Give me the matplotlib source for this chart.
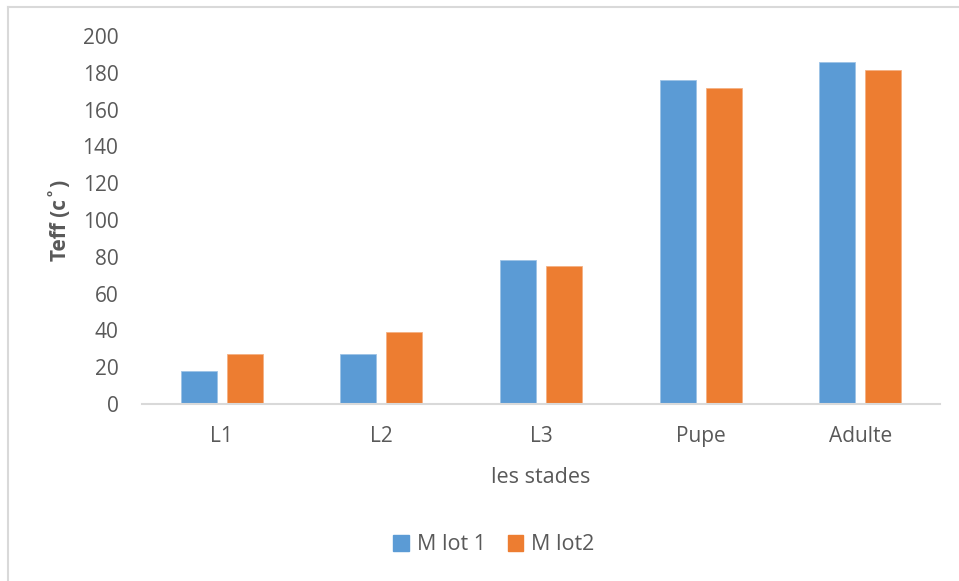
import matplotlib
matplotlib.use("Agg")
import matplotlib.pyplot as plt
from matplotlib.lines import Line2D
from matplotlib.patches import Patch
import numpy as np

plt.rcParams['font.family'] = ['Open Sans', 'DejaVu Sans']

stages = ["L1", "L2", "L3", "Pupe", "Adulte"]
lot1 = [18, 27, 78, 176, 186]
lot2 = [27, 39, 75, 172, 181.5]
series_names = ["M lot 1", "M lot2"]
yticks = [0, 20, 40, 60, 80, 100, 120, 140, 160, 180, 200]

blue = "#5B9BD5"
orange = "#ED7D31"
text_col = "#595959"
axis_col = "#D9D9D9"

W, H = 959, 581
fig = plt.figure(figsize=(W / 100, H / 100), dpi=100)

# plot area in pixel coordinates
left, right, top, bottom = 142, 940, 36, 404
pw, ph = right - left, bottom - top
ax = fig.add_axes([left / W, 1 - bottom / H, pw / W, ph / H])

x = np.arange(len(stages))
bw = 0.225
off = 0.144
ax.bar(x - off, lot1, width=bw, color=blue, edgecolor="#9DC3E6", linewidth=0.6)
ax.bar(x + off, lot2, width=bw, color=orange, edgecolor="#F4B183", linewidth=0.6)

ax.set_xlim(-0.5, len(stages) - 0.5)
ax.set_ylim(0, 200)
ax.set_yticks(yticks)
ax.set_yticklabels([str(v) for v in yticks], fontsize=15, color=text_col)
ax.set_xticks(x)
ax.set_xticklabels(stages, fontsize=15, color=text_col)
ax.tick_params(axis="y", length=0, pad=17)
ax.tick_params(axis="x", length=0, pad=16)

for s in ["top", "right", "left"]:
    ax.spines[s].set_visible(False)
ax.spines["bottom"].set_color(axis_col)
ax.spines["bottom"].set_linewidth(1.5)

ax.set_ylabel("Teff (c˚)", fontsize=15, fontweight="bold", color=text_col)
ax.yaxis.set_label_coords((71 - left) / pw, 0.5)
ax.set_xlabel("les stades", fontsize=15.5, color=text_col)
ax.xaxis.set_label_coords(0.5, -(467 - bottom) / ph)

handles = [Patch(facecolor=blue, edgecolor=blue), Patch(facecolor=orange, edgecolor=orange)]
fig.legend(handles, series_names, loc="center", bbox_to_anchor=(494 / W, 1 - 545 / H),
           ncol=2, frameon=False, fontsize=15.5, labelcolor=text_col,
           handlelength=0.7, handleheight=0.7, handletextpad=0.4, columnspacing=1.0)

# chart frame (left and top edges)
fig.add_artist(Line2D([8 / W, 8 / W], [0, 1 - 7 / H], transform=fig.transFigure,
                      color=axis_col, linewidth=1.5))
fig.add_artist(Line2D([8 / W, 1], [1 - 7 / H, 1 - 7 / H], transform=fig.transFigure,
                      color=axis_col, linewidth=1.5))

fig.savefig("out.png", dpi=100, facecolor="white")
